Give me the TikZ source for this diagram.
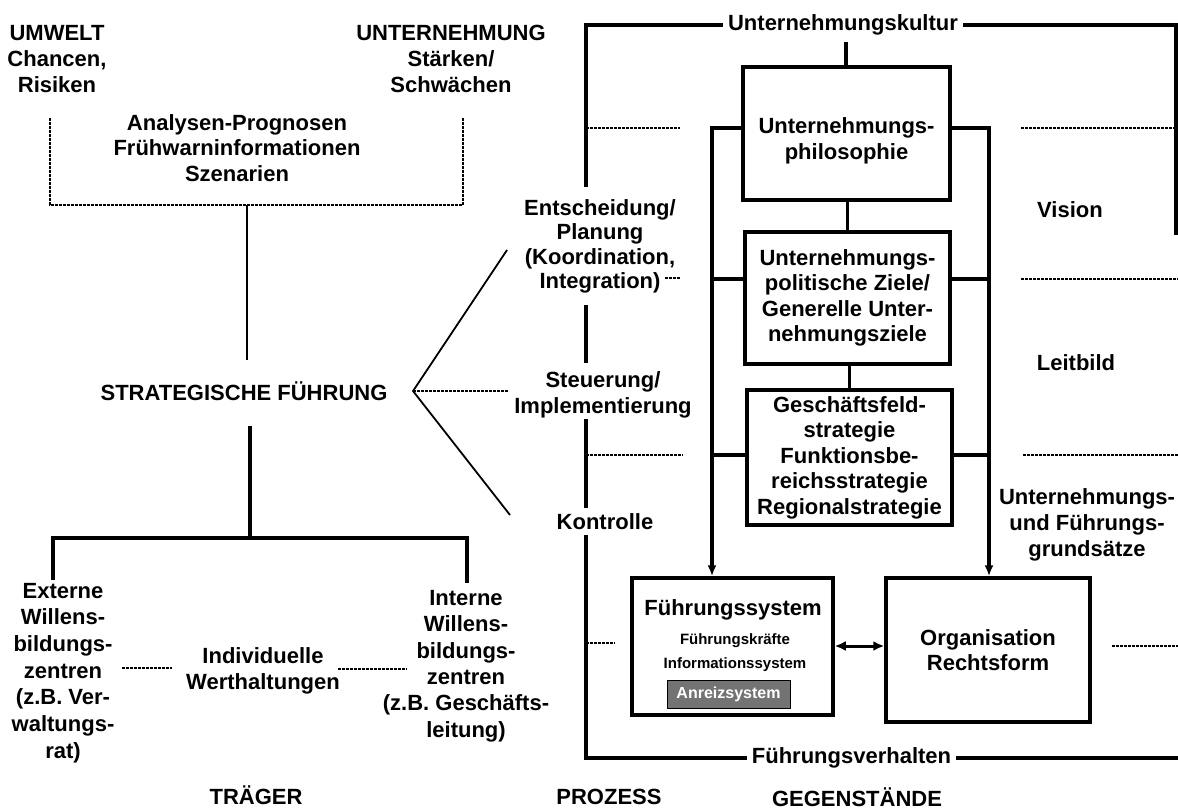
\documentclass[tikz,border=0pt]{standalone}
\usepackage{fontspec}
\setmainfont{Liberation Sans}
\usetikzlibrary{arrows.meta}
\begin{document}
\begin{tikzpicture}[x=1pt,y=-1pt,
  lbl/.style={font=\fontsize{22}{25.7}\selectfont\bfseries, align=center, inner sep=0pt},
  small/.style={font=\fontsize{15}{24}\selectfont\bfseries, align=center, inner sep=0pt},
  heavy/.style={line width=3.5pt},
  fine/.style={line width=1.8pt},
  dotrule/.style={line width=1.2pt, dash pattern=on 3pt off 1pt},
  box/.style={draw, line width=3.5pt, inner sep=0pt, align=center,
              font=\fontsize{22}{25.5}\selectfont\bfseries},
  tip/.style={-{Latex[length=11pt,width=9pt]}},
]
\useasboundingbox (0,0) rectangle (1178,810);
\fill[white] (0,0) rectangle (1178,810);

% ---------- left part: Träger ----------
\node[lbl] (umwelt) at (57,59) {UMWELT\\Chancen,\\Risiken};
\node[lbl] (unt) at (451,59) {UNTERNEHMUNG\\Stärken/\\Schwächen};
\node[lbl] (analysen) at (237,148) {Analysen-Prognosen\\Frühwarninformationen\\Szenarien};

\coordinate (brL) at (50,118);
\coordinate (brR) at (463,118);
\draw[dotrule] (brL) -- (50,205) -- (463,205) -- (brR);

\node[lbl] (sf) at (244,391) {STRATEGISCHE FÜHRUNG};
\coordinate (stemTop) at (247,205);
\coordinate (stemEnd) at (247,360);
\draw[fine] (stemTop) -- (stemEnd);

% fan towards the process column
\coordinate (apex) at (413,391);
\coordinate (fanA) at (507,250);
\coordinate (fanB) at (509,391);
\coordinate (fanC) at (510,515);
\draw[fine] (fanA) -- (apex) -- (fanC);
\draw[dotrule] (apex) -- (fanB);

% lower tree
\coordinate (treeTop) at (250,426);
\coordinate (treeL) at (53,538);
\coordinate (treeR) at (467,538);
\draw[heavy] (treeTop) -- (250,538);
\draw[heavy] (53,580) -- (treeL) -- (treeR) -- (467,583);

\node[lbl, font=\fontsize{22}{26.7}\selectfont\bfseries] (ext) at (63,673)
  {Externe\\Willens-\\bildungs-\\zentren\\(z.B. Ver-\\waltungs-\\rat)};
\node[lbl] (ind) at (263,671) {Individuelle\\Werthaltungen};
\node[lbl, font=\fontsize{22}{26.4}\selectfont\bfseries] (int) at (466,666)
  {Interne\\Willens-\\bildungs-\\zentren\\(z.B. Geschäfts-\\leitung)};
\draw[dotrule] (122,668) -- (172,668);
\draw[dotrule] (338,669) -- (407,669);

\node[lbl] (traeger) at (256,795) {TRÄGER};

% ---------- middle: Prozess ----------
\node[lbl, font=\fontsize{22}{24.3}\selectfont\bfseries] (entsch) at (600,246.5)
  {Entscheidung/\\Planung\\(Koordination,\\Integration)};
\node[lbl] (steuer) at (603,395) {Steuerung/\\Implementierung};
\node[lbl] (kontr) at (605,522) {Kontrolle};
\node[lbl] (prozess) at (609,797) {PROZESS};

\node[lbl, inner xsep=5pt] (kultur) at (843,25) {Unternehmungskultur};
\node[lbl, inner xsep=5pt] (fv) at (851.5,758) {Führungsverhalten};

% outer frame: culture on top, leadership behaviour at the bottom
\draw[heavy] (586,187) -- (586,25) -- (kultur.west);
\draw[heavy] (kultur.east) -- (1176,25) -- (1176,235);
\draw[heavy] (586,305) -- (586,363);
\draw[heavy] (586,419) -- (586,508);
\draw[heavy] (586,535) -- (586,758) -- (fv.west);
\draw[heavy] (fv.east) -- (1178,758);

% level rules
\draw[dotrule] (586,128) -- (680,128);
\draw[dotrule] (1021,128) -- (1178,128);
\draw[dotrule] (665,278) -- (680,278);
\draw[dotrule] (1021,279) -- (1178,279);
\draw[dotrule] (586,455) -- (683,455);
\draw[dotrule] (1023,455) -- (1178,455);
\draw[dotrule] (586,643) -- (615,643);
\draw[dotrule] (1112,646) -- (1178,646);

% ---------- right: Gegenstände ----------
\node[box, minimum width=207pt, minimum height=133pt] (phil) at (846.5,133.5) {};
\node[lbl] (philtxt) at (846.5,141) {Unternehmungs-\\philosophie};
\node[box, minimum width=205pt, minimum height=132pt] (ziele) at (847.5,298)
  {Unternehmungs-\\politische Ziele/\\Generelle Unter-\\nehmungsziele};
\node[box, minimum width=205pt, minimum height=135pt] (strat) at (849.5,457.5)
  {Geschäftsfeld-\\strategie\\Funktionsbe-\\reichsstrategie\\Regionalstrategie};
\node[box, minimum width=201pt, minimum height=137pt] (fsys) at (732.5,646.5) {};
\node[lbl] (fsystxt) at (733,610) {Führungssystem};
\node[small] (fk) at (735,653) {Führungskräfte\\Informationssystem};
\node[draw, line width=1pt, fill=black!55, text=white, inner sep=0pt,
      font=\fontsize{16}{18}\selectfont\bfseries,
      minimum width=123pt, minimum height=28pt] (anreiz) at (728.5,694) {Anreizsystem};
\node[box, minimum width=204pt, minimum height=144pt] (org) at (988,650)
  {Organisation\\Rechtsform};

\node[lbl] (vision) at (1070,210) {Vision};
\node[lbl] (leitbild) at (1076,363) {Leitbild};
\node[lbl] (grunds) at (1087,525) {Unternehmungs-\\und Führungs-\\grundsätze};
\node[lbl] (gegen) at (857,797) {GEGENSTÄNDE};

% vertical chain of the boxes
\coordinate (kulturStem) at (846,42);
\draw[heavy] (kulturStem) -- (phil.north -| kulturStem);
\draw[heavy] (phil.south -| ziele.north) -- (ziele.north);
\draw[heavy] (ziele.south -| strat.north) -- (strat.north);

% buses down to the two lower boxes
\coordinate (lbus) at (712,128);
\coordinate (rbus) at (989,128);
\draw[heavy, tip] (lbus -| phil.west) -- (lbus) -- (lbus |- fsys.north);
\draw[heavy, tip] (rbus -| phil.east) -- (rbus) -- (rbus |- org.north);
\draw[heavy] (ziele.west |- 0,279) -- (lbus |- 0,279);
\draw[heavy] (ziele.east |- 0,279) -- (rbus |- 0,279);
\draw[heavy] (strat.west |- 0,455) -- (lbus |- 0,455);
\draw[heavy] (strat.east |- 0,455) -- (rbus |- 0,455);

\draw[line width=3pt, {Latex[length=11pt,width=10pt]}-{Latex[length=11pt,width=10pt]}]
  (fsys.east |- 0,646) -- (org.west |- 0,646);
\end{tikzpicture}
\end{document}
